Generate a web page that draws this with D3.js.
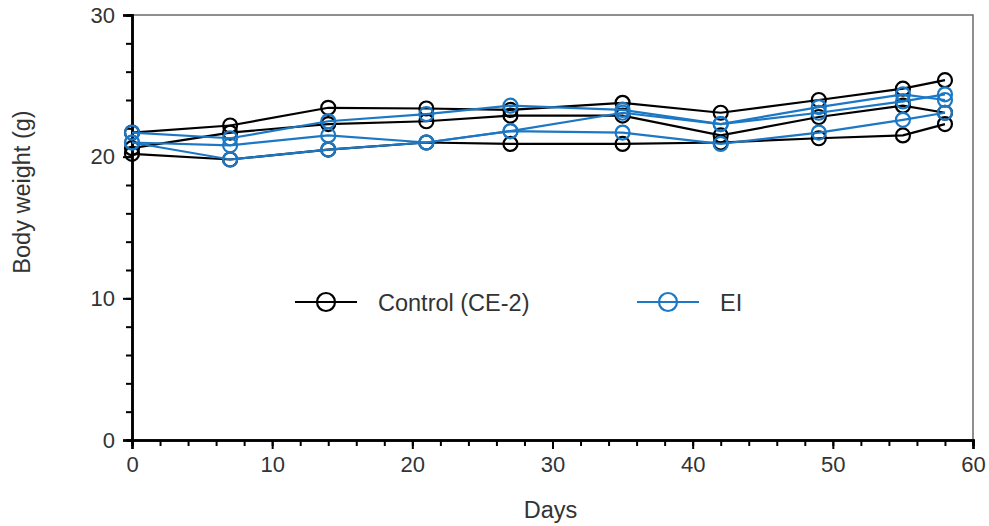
<!DOCTYPE html>
<html>
<head>
<meta charset="utf-8">
<script src="https://cdn.jsdelivr.net/npm/d3@7"></script>
<style>
  html, body { margin: 0; padding: 0; background: #fff; }
  svg { display: block; font-family: "Liberation Sans", Arial, sans-serif; }
  .tick-label { fill: #333; font-size: 22px; }
  .title { fill: #333; font-size: 23.5px; }
</style>
</head>
<body>
<div id="chart"></div>
<script>
// sampling days
const days = [0, 7, 14, 21, 27, 35, 42, 49, 55, 58];

// Control (CE-2), three animals/groups (g)
const control1 = [21.7, 22.2, 23.45, 23.4, 23.3, 23.8, 23.1, 24.0, 24.8, 25.4];
const control2 = [20.6, 21.7, 22.3, 22.5, 22.9, 22.9, 21.5, 22.8, 23.6, 23.1];
const control3 = [20.2, 19.8, 20.5, 21.0, 20.9, 20.9, 21.0, 21.3, 21.5, 22.3];

// EI
const ei1 = [21.7, 21.3, 22.5, 23.0, 23.6, 23.3, 22.3, 23.5, 24.4, 24.0];
const ei2 = [21.0, 20.8, 21.5, 21.0, 21.8, 21.7, 20.9, 21.7, 22.6, 23.1];
const ei3 = [21.0, 19.8, 20.5, 21.0, 21.8, 23.1, 22.3, 23.1, 23.9, 24.4];

const xTicks = [0, 10, 20, 30, 40, 50, 60];
const yTicks = [0, 10, 20, 30];

const seriesDefs = [
  { name: "Control (CE-2)", color: "#000000", runs: [control1, control2, control3] },
  { name: "EI", color: "#1c78c4", runs: [ei1, ei2, ei3] }
];

const W = 989, H = 526;
const M = { top: 15, right: 16, bottom: 86, left: 132 };

const svg = d3.select("#chart").append("svg").attr("width", W).attr("height", H);

const x = d3.scaleLinear().domain([0, 60]).range([M.left, W - M.right]);
const y = d3.scaleLinear().domain([0, 30]).range([H - M.bottom, M.top]);

// frame (top + right, thin grey)
svg.append("path")
  .attr("d", `M${x(0)},${y(30)}H${x(60)}V${y(0)}`)
  .attr("fill", "none").attr("stroke", "#6b6b6b").attr("stroke-width", 1.5);

// minor ticks, then major ticks with labels
const gx = svg.append("g").attr("transform", `translate(0,${y(0)})`);
gx.call(d3.axisBottom(x).tickValues(d3.range(0, 61, 2)).tickSize(6).tickFormat(""))
  .call(g => g.selectAll("line").attr("stroke", "#000").attr("stroke-width", 2));
gx.append("g").call(d3.axisBottom(x).tickValues(xTicks).tickSize(9).tickPadding(4))
  .call(g => g.selectAll("line").attr("stroke", "#000").attr("stroke-width", 2))
  .call(g => g.selectAll("text").attr("class", "tick-label").attr("font-size", null).attr("font-family", null).attr("dy", "0.85em"));
gx.selectAll(".domain").attr("stroke", "#000").attr("stroke-width", 2.5);

const gy = svg.append("g").attr("transform", `translate(${x(0)},0)`);
gy.call(d3.axisLeft(y).tickValues(d3.range(0, 31, 2)).tickSize(6).tickFormat(""))
  .call(g => g.selectAll("line").attr("stroke", "#000").attr("stroke-width", 2));
gy.append("g").call(d3.axisLeft(y).tickValues(yTicks).tickSize(9).tickPadding(8))
  .call(g => g.selectAll("line").attr("stroke", "#000").attr("stroke-width", 2))
  .call(g => g.selectAll("text").attr("class", "tick-label").attr("font-size", null).attr("font-family", null));
gy.selectAll(".domain").attr("stroke", "#000").attr("stroke-width", 2.5);

// axis titles
svg.append("text").attr("class", "title")
  .attr("x", (x(0) + x(60)) / 2 - 2).attr("y", 518).attr("text-anchor", "middle").text("Days");
svg.append("text").attr("class", "title")
  .attr("transform", `translate(30,${192}) rotate(-90)`).attr("text-anchor", "middle").text("Body weight (g)");

// data lines + markers (control first, EI drawn on top)
const line = d3.line().x((d, i) => x(days[i])).y(d => y(d));
const plot = svg.append("g");
seriesDefs.forEach(s => {
  const g = plot.append("g");
  s.runs.forEach(run => {
    g.append("path").attr("d", line(run))
      .attr("fill", "none").attr("stroke", s.color).attr("stroke-width", 2.2);
    g.selectAll(null).data(run).join("circle")
      .attr("cx", (d, i) => x(days[i])).attr("cy", d => y(d)).attr("r", 7)
      .attr("fill", "none").attr("stroke", s.color).attr("stroke-width", 2.2);
  });
});

// legend
const legendItems = [
  { s: seriesDefs[0], x0: 295, y0: 302 },
  { s: seriesDefs[1], x0: 637, y0: 302 }
];
legendItems.forEach(li => {
  const g = svg.append("g").attr("transform", `translate(${li.x0},${li.y0})`);
  g.append("line").attr("x1", 0).attr("x2", 62).attr("stroke", li.s.color).attr("stroke-width", 2.2);
  g.append("circle").attr("cx", 31).attr("r", 9).attr("fill", "none")
    .attr("stroke", li.s.color).attr("stroke-width", 2.2);
  g.append("text").attr("class", "title").attr("x", 83).attr("y", 8.5).text(li.s.name);
});
</script>
</body>
</html>
